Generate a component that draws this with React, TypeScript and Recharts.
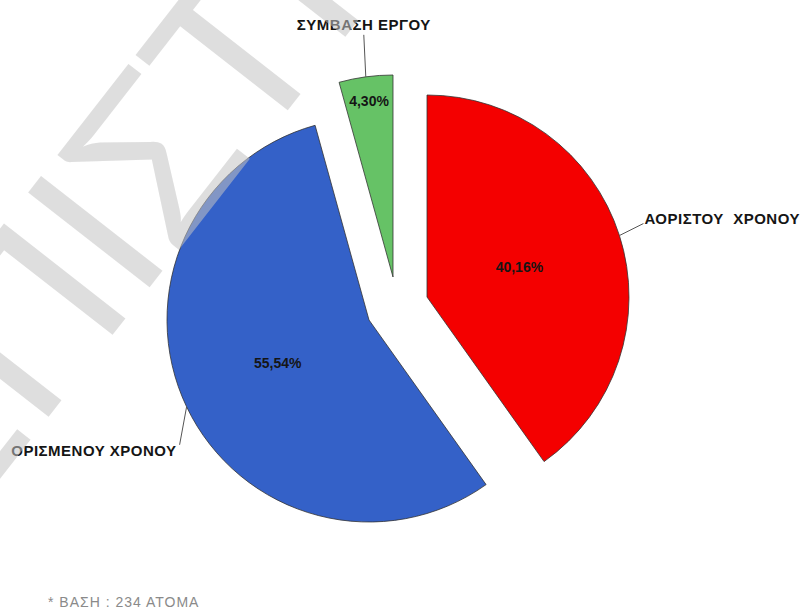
import { PieChart, Pie, Cell } from "recharts";

const categories = ["ΑΟΡΙΣΤΟΥ  ΧΡΟΝΟΥ", "ΟΡΙΣΜΕΝΟΥ ΧΡΟΝΟΥ", "ΣΥΜΒΑΣΗ ΕΡΓΟΥ"];
const shares = [40.16, 55.54, 4.3];
const colors = ["#f40000", "#3461c8", "#66c266"];
const baseNote = "* ΒΑΣΗ : 234 ΑΤΟΜΑ";
const watermark = "ΕΠΙΣΤΗΜΗ";

// exploded slice placement, leader lines and label placement
const layout = [
  { cx: 427, cy: 297, labelR: 97, lead: [24, -12], anchor: "start", tdx: 1, tdy: 0 },
  { cx: 369, cy: 320, labelR: 101, lead: [-7, 38], anchor: "end", tdx: -3, tdy: 11 },
  { cx: 393, cy: 277, labelR: 178, lead: [-2, -42], anchor: "middle", tdx: 0, tdy: -5 },
];

const RADIUS = 202;
const RAD = Math.PI / 180;
const FONT = "Arial, 'Liberation Sans', sans-serif";

const total = shares.reduce((a, b) => a + b, 0);
const slices = shares.map((v, i) => {
  const before = shares.slice(0, i).reduce((a, b) => a + b, 0);
  const start = 90 - (before / total) * 360;
  const end = 90 - ((before + v) / total) * 360;
  return { name: categories[i], value: v, start, end };
});

const fmt = (v: number) => v.toFixed(2).replace(".", ",") + "%";

function makeLabel(i: number) {
  const l = layout[i];
  return (props: any) => {
    const { cx, cy, midAngle, outerRadius } = props;
    const cos = Math.cos(-midAngle * RAD);
    const sin = Math.sin(-midAngle * RAD);
    const ix = cx + l.labelR * cos;
    const iy = cy + l.labelR * sin;
    const sx = cx + outerRadius * cos;
    const sy = cy + outerRadius * sin;
    const ex = sx + l.lead[0];
    const ey = sy + l.lead[1];
    return (
      <g>
        <text
          x={ix}
          y={iy}
          textAnchor="middle"
          dominantBaseline="central"
          fontFamily={FONT}
          fontWeight="bold"
          fontSize={14}
          fill="#151515"
        >
          {fmt(shares[i])}
        </text>
        <path d={`M${sx},${sy}L${ex},${ey}`} stroke="#555" strokeWidth={1} fill="none" />
        <text
          x={ex + l.tdx}
          y={ey + l.tdy}
          textAnchor={l.anchor as any}
          fontFamily={FONT}
          fontWeight="bold"
          fontSize={15}
          letterSpacing={0.5}
          fill="#151515"
          style={{ whiteSpace: "pre" }}
        >
          {categories[i]}
        </text>
      </g>
    );
  };
}

export default function App() {
  return (
    <div style={{ position: "absolute", left: 0, top: 0, width: 803, height: 609, background: "#fff" }}>
      <PieChart width={803} height={609} margin={{ top: 0, right: 0, bottom: 0, left: 0 }}>
        {slices.map((s, i) => (
          <Pie
            key={s.name}
            data={[s]}
            dataKey="value"
            nameKey="name"
            cx={layout[i].cx}
            cy={layout[i].cy}
            outerRadius={RADIUS}
            startAngle={s.start}
            endAngle={s.end}
            label={makeLabel(i)}
            labelLine={false}
            isAnimationActive={false}
          >
            <Cell fill={colors[i]} stroke="#333" strokeWidth={0.8} />
          </Pie>
        ))}
      </PieChart>
      <svg
        width={803}
        height={609}
        style={{ position: "absolute", left: 0, top: 0, pointerEvents: "none" }}
      >
        <text
          x={-40}
          y={530}
          transform="rotate(-52 -40 530)"
          fontFamily="Lato, sans-serif"
          fontWeight={400}
          fontSize={215}
          fill="rgb(195,195,195)"
          fillOpacity={0.55}
        >
          {watermark}
        </text>
        <text x={48} y={607} fontFamily={FONT} fontSize={14} letterSpacing={1} fill="#8a8a8a">
          {baseNote}
        </text>
      </svg>
    </div>
  );
}
